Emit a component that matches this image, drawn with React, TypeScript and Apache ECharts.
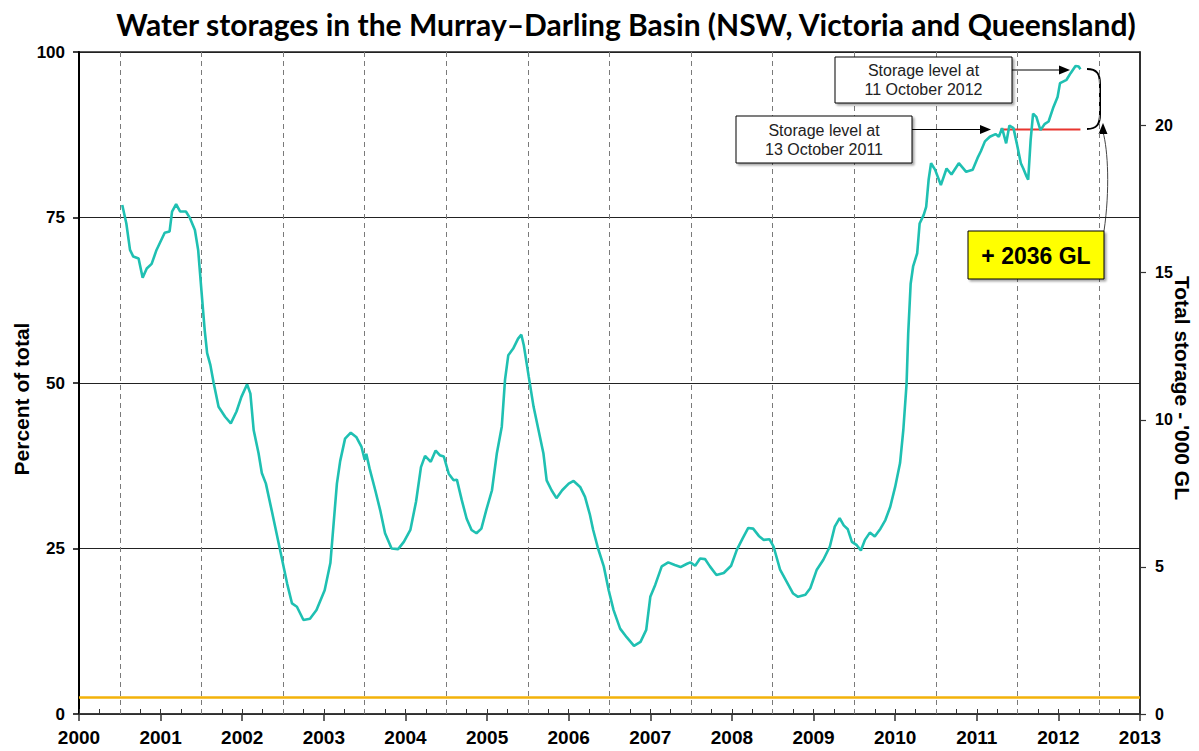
import React, { useEffect, useRef } from "react";
import * as echarts from "echarts";

// ---- data ----
const yearLabels = ["2000","2001","2002","2003","2004","2005","2006","2007","2008","2009","2010","2011","2012","2013"];
const dashedYears = [2000.5, 2001.5, 2002.5, 2003.5, 2004.5, 2005.5, 2006.5, 2007.5, 2008.5, 2009.5, 2010.5, 2011.5, 2012.5];
const leftTicks = [0, 25, 50, 75, 100];
const rightTicks = [0, 5, 10, 15, 20];
const rightMax = 22.5;

const storageDates = [
  2000.53, 2000.58, 2000.625, 2000.665, 2000.73, 2000.78, 2000.83, 2000.89, 2000.95, 2001.05,
  2001.11, 2001.14, 2001.19, 2001.24, 2001.31, 2001.36, 2001.42, 2001.46, 2001.5, 2001.54,
  2001.57, 2001.61, 2001.65, 2001.71, 2001.79, 2001.86, 2001.93, 2001.99, 2002.06, 2002.1,
  2002.14, 2002.2, 2002.24, 2002.29, 2002.36, 2002.46, 2002.55, 2002.61, 2002.67, 2002.75,
  2002.83, 2002.91, 2003.01, 2003.08, 2003.12, 2003.16, 2003.2, 2003.26, 2003.33, 2003.4,
  2003.46, 2003.5, 2003.52, 2003.56, 2003.63, 2003.69, 2003.75, 2003.83, 2003.91, 2003.98,
  2004.06, 2004.13, 2004.19, 2004.24, 2004.31, 2004.37, 2004.42, 2004.47, 2004.53, 2004.59,
  2004.63, 2004.69, 2004.75, 2004.81, 2004.87, 2004.93, 2004.99, 2005.06, 2005.12, 2005.18,
  2005.22, 2005.26, 2005.32, 2005.38, 2005.42, 2005.45, 2005.51, 2005.57, 2005.63, 2005.69,
  2005.73, 2005.79, 2005.85, 2005.92, 2006.0, 2006.06, 2006.14, 2006.2, 2006.26, 2006.3,
  2006.36, 2006.43, 2006.49, 2006.55, 2006.63, 2006.71, 2006.8, 2006.88, 2006.95, 2007.0,
  2007.06, 2007.14, 2007.22, 2007.3, 2007.37, 2007.45, 2007.49, 2007.55, 2007.61, 2007.67,
  2007.73, 2007.81, 2007.9, 2007.99, 2008.06, 2008.13, 2008.2, 2008.26, 2008.33, 2008.39,
  2008.46, 2008.51, 2008.59, 2008.67, 2008.75, 2008.81, 2008.9, 2008.96, 2009.04, 2009.12,
  2009.2, 2009.26, 2009.32, 2009.37, 2009.42, 2009.47, 2009.53, 2009.58, 2009.63, 2009.69,
  2009.75, 2009.82, 2009.88, 2009.94, 2010.0, 2010.06, 2010.1, 2010.14, 2010.16, 2010.19,
  2010.22, 2010.27, 2010.3, 2010.35, 2010.38, 2010.41, 2010.44, 2010.49, 2010.56, 2010.63,
  2010.69, 2010.78, 2010.87, 2010.95, 2011.01, 2011.05, 2011.1, 2011.16, 2011.23, 2011.27,
  2011.31, 2011.36, 2011.4, 2011.45, 2011.49, 2011.54, 2011.57, 2011.61, 2011.63, 2011.66,
  2011.69, 2011.73, 2011.78, 2011.83, 2011.88, 2011.94, 2011.99, 2012.02, 2012.1, 2012.15,
  2012.21, 2012.25, 2012.27,
];
const storagePct = [
  76.9, 74.1, 70.1, 69.1, 68.8, 65.9, 67.3, 68.0, 70.1, 72.7,
  72.9, 75.9, 77.0, 75.9, 75.9, 74.9, 73.1, 70.1, 64.0, 58.0,
  54.5, 52.7, 50.0, 46.4, 44.9, 43.9, 45.7, 47.9, 49.8, 48.4,
  42.9, 39.4, 36.4, 34.8, 30.8, 25.0, 19.7, 16.7, 16.2, 14.2,
  14.4, 15.7, 18.7, 22.8, 28.8, 34.8, 38.2, 41.6, 42.5, 41.8,
  40.4, 38.4, 39.3, 37.1, 33.8, 30.8, 27.3, 25.0, 24.9, 26.0,
  27.8, 32.1, 37.3, 39.0, 38.1, 39.8, 39.1, 38.9, 36.3, 35.3,
  35.4, 32.3, 29.5, 27.8, 27.3, 28.0, 30.8, 33.8, 39.4, 43.4,
  50.5, 54.2, 55.2, 56.7, 57.3, 55.7, 51.0, 46.4, 42.9, 39.4,
  35.3, 33.8, 32.6, 33.8, 34.8, 35.2, 34.3, 32.8, 30.1, 27.8,
  25.0, 22.3, 18.7, 15.7, 12.9, 11.6, 10.3, 10.9, 12.7, 17.7,
  19.5, 22.3, 22.9, 22.5, 22.2, 22.7, 22.9, 22.4, 23.5, 23.4,
  22.3, 21.0, 21.3, 22.4, 24.8, 26.5, 28.1, 28.0, 26.9, 26.3,
  26.4, 25.3, 21.8, 20.0, 18.2, 17.7, 18.0, 19.0, 21.8, 23.3,
  25.3, 28.3, 29.6, 28.5, 27.9, 26.0, 25.5, 24.7, 26.3, 27.4,
  26.8, 28.0, 29.3, 31.3, 34.3, 37.9, 42.9, 49.9, 57.5, 65.0,
  67.6, 69.6, 74.1, 75.4, 76.6, 80.7, 83.2, 82.2, 79.9, 82.4,
  81.5, 83.2, 81.9, 82.2, 84.0, 85.0, 86.5, 87.2, 87.6, 87.2,
  88.5, 86.2, 88.9, 88.5, 86.2, 83.2, 82.4, 81.2, 80.7, 86.7,
  90.7, 90.2, 88.2, 89.1, 89.5, 91.7, 93.2, 95.3, 95.8, 96.8,
  97.9, 97.8, 97.4,
];
const level2011Dates = [2011.29, 2012.27];
const level2011Pct = [88.3, 88.3];
const deadStorageLevel = 2.5;

const titleText = "Water storages in the Murray\u2013Darling Basin (NSW, Victoria and Queensland)";

export default function App() {
  const ref = useRef<HTMLDivElement>(null);

  useEffect(() => {
    if (!ref.current) return;
    const chart = echarts.init(ref.current, undefined, { renderer: "svg" });
    const arial = "'Liberation Sans', Arial, sans-serif";
    const black = "#000";

    const storage = storageDates.map((d, i) => [d, storagePct[i]]);
    const level2011 = level2011Dates.map((d, i) => [d, level2011Pct[i]]);

    const boxStyle = {
      fill: "#fff",
      stroke: "#000",
      lineWidth: 1,
      shadowBlur: 2,
      shadowOffsetX: 2,
      shadowOffsetY: 2,
      shadowColor: "rgba(0,0,0,0.35)",
    };
    const boxText = (text: string, x: number, y: number) => ({
      type: "text",
      x,
      y,
      z: 12,
      silent: true,
      style: { text, fontSize: 16, fontFamily: arial, fill: "#222", align: "center", verticalAlign: "middle" },
    });

    chart.setOption({
      animation: false,
      backgroundColor: "#fff",
      grid: {
        left: 79,
        right: 59,
        top: 52,
        bottom: 37,
        show: true,
        borderColor: "#222",
        borderWidth: 1.5,
        outerBoundsMode: "none",
      },
      xAxis: [
        {
          type: "value",
          min: 2000,
          max: 2013,
          interval: 1,
          position: "bottom",
          axisLine: { show: true, onZero: false, lineStyle: { color: "#333", width: 1.5 } },
          axisTick: { show: true, inside: false, length: 7, lineStyle: { color: "#333", width: 1.5 } },
          axisLabel: {
            formatter: (v: number) => yearLabels[Math.round(v - 2000)] ?? "",
            color: black,
            fontSize: 19,
            fontWeight: "bold",
            fontFamily: arial,
            margin: 14,
          },
          splitLine: { show: false },
        },
        {
          type: "value",
          min: 2000,
          max: 2013,
          interval: 0.25,
          position: "bottom",
          offset: 0,
          axisLine: { show: false },
          axisTick: { show: true, inside: true, length: 5, lineStyle: { color: "#333", width: 1 } },
          axisLabel: { show: false },
          splitLine: { show: false },
        },
      ],
      yAxis: [
        {
          type: "value",
          min: 0,
          max: 100,
          interval: 25,
          position: "left",
          axisLine: { show: true, lineStyle: { color: black, width: 2 } },
          axisTick: { show: true, inside: false, length: 6, lineStyle: { color: black, width: 1.5 } },
          axisLabel: {
            color: black,
            fontSize: 17,
            fontWeight: "bold",
            fontFamily: arial,
            margin: 14,
            formatter: (v: number) => (leftTicks.includes(v) ? String(v) : ""),
          },
          splitLine: { show: true, lineStyle: { color: "#222", width: 1.2, type: "solid" } },
        },
        {
          type: "value",
          min: 0,
          max: rightMax,
          position: "right",
          axisLine: { show: true, lineStyle: { color: "#222", width: 1.5 } },
          axisTick: {
            show: true,
            inside: false,
            length: 6,
            customValues: rightTicks,
            lineStyle: { color: "#333", width: 1.2 },
          },
          axisLabel: {
            customValues: rightTicks,
            color: black,
            fontSize: 16,
            fontWeight: "bold",
            fontFamily: arial,
            margin: 15,
          },
          splitLine: { show: false },
        },
      ],
      series: [
        {
          type: "line",
          name: "Storage",
          xAxisIndex: 0,
          yAxisIndex: 0,
          data: storage,
          showSymbol: false,
          symbol: "none",
          lineStyle: { color: "#1fc0b2", width: 2.6 },
          z: 5,
          markLine: {
            silent: true,
            symbol: ["none", "none"],
            label: { show: false },
            data: [
              ...dashedYears.map((x) => ({
                xAxis: x,
                lineStyle: { color: "#7a7a7a", width: 1, type: [5, 4] },
              })),
              {
                yAxis: deadStorageLevel,
                lineStyle: { color: "#f3b20a", width: 2.5, type: "solid" },
              },
            ],
            z: 2,
          },
        },
        {
          type: "line",
          name: "Level 2011",
          xAxisIndex: 0,
          yAxisIndex: 0,
          data: level2011,
          showSymbol: false,
          symbol: "none",
          lineStyle: { color: "#e8352f", width: 2 },
          z: 4,
        },
      ],
      graphic: [
        {
          type: "text",
          x: 626,
          y: 24,
          silent: true,
          style: {
            text: titleText,
            fontSize: 30,
            fontWeight: "bold",
            fontFamily: "Lato, 'Open Sans', sans-serif",
            fill: "#000",
            align: "center",
            verticalAlign: "middle",
          },
        },
        {
          type: "text",
          x: 21,
          y: 399,
          rotation: Math.PI / 2,
          silent: true,
          style: {
            text: "Percent of total",
            fontSize: 21,
            fontWeight: "bold",
            fontFamily: arial,
            fill: "#000",
            align: "center",
            verticalAlign: "middle",
          },
        },
        {
          type: "text",
          x: 1182,
          y: 388,
          rotation: -Math.PI / 2,
          silent: true,
          style: {
            text: "Total storage - '000 GL",
            fontSize: 21,
            fontWeight: "bold",
            fontFamily: arial,
            fill: "#000",
            align: "center",
            verticalAlign: "middle",
          },
        },
        // box 1 (2012)
        { type: "rect", silent: true, shape: { x: 835, y: 57, width: 177, height: 46 }, style: boxStyle, z: 10 },
        boxText("Storage level at", 923.5, 70.5),
        boxText("11 October 2012", 923.5, 89),
        // box 2 (2011)
        { type: "rect", silent: true, shape: { x: 736, y: 116, width: 176, height: 47 }, style: boxStyle, z: 10 },
        boxText("Storage level at", 824, 130.5),
        boxText("13 October 2011", 824, 149),
        // arrow 1
        { type: "line", silent: true, shape: { x1: 1012, y1: 70, x2: 1062, y2: 70 }, style: { stroke: "#000", lineWidth: 1 } },
        { type: "polygon", silent: true, shape: { points: [[1070, 70], [1059, 65.5], [1059, 74.5]] }, style: { fill: "#000" } },
        // arrow 2
        { type: "line", silent: true, shape: { x1: 912, y1: 129.5, x2: 983, y2: 129.5 }, style: { stroke: "#000", lineWidth: 1 } },
        { type: "polygon", silent: true, shape: { points: [[991, 129.5], [980, 125], [980, 134]] }, style: { fill: "#000" } },
        // brace
        {
          type: "bezierCurve",
          silent: true,
          shape: { x1: 1087, y1: 69, x2: 1100, y2: 84, cpx1: 1097, cpy1: 69, cpx2: 1100, cpy2: 74 },
          style: { stroke: "#000", lineWidth: 2, fill: null },
        },
        { type: "line", silent: true, shape: { x1: 1100, y1: 84, x2: 1100, y2: 114 }, style: { stroke: "#000", lineWidth: 2 } },
        {
          type: "bezierCurve",
          silent: true,
          shape: { x1: 1100, y1: 114, x2: 1087, y2: 129, cpx1: 1100, cpy1: 124, cpx2: 1097, cpy2: 129 },
          style: { stroke: "#000", lineWidth: 2, fill: null },
        },
        // curved arrow from yellow box
        {
          type: "bezierCurve",
          silent: true,
          shape: { x1: 1104, y1: 231, x2: 1103, y2: 132, cpx1: 1110, cpy1: 190, cpx2: 1108, cpy2: 150 },
          style: { stroke: "#444", lineWidth: 1, fill: null },
        },
        { type: "polygon", silent: true, shape: { points: [[1103, 123], [1098.5, 134], [1107.5, 134]] }, style: { fill: "#000" } },
        // yellow box
        {
          type: "rect",
          silent: true,
          shape: { x: 968, y: 231, width: 136, height: 48 },
          style: { fill: "#ffff00", stroke: "#000", lineWidth: 1, shadowBlur: 2, shadowOffsetX: 2, shadowOffsetY: 2, shadowColor: "rgba(0,0,0,0.35)" },
          z: 10,
        },
        {
          type: "text",
          x: 1036,
          y: 256,
          silent: true,
          z: 12,
          style: {
            text: "+ 2036 GL",
            fontSize: 23,
            fontWeight: "bold",
            fontFamily: arial,
            fill: "#000",
            align: "center",
            verticalAlign: "middle",
          },
        },
      ],
    });

    return () => chart.dispose();
  }, []);

  return <div ref={ref} style={{ position: "fixed", left: 0, top: 0, width: 1199, height: 751 }} />;
}
